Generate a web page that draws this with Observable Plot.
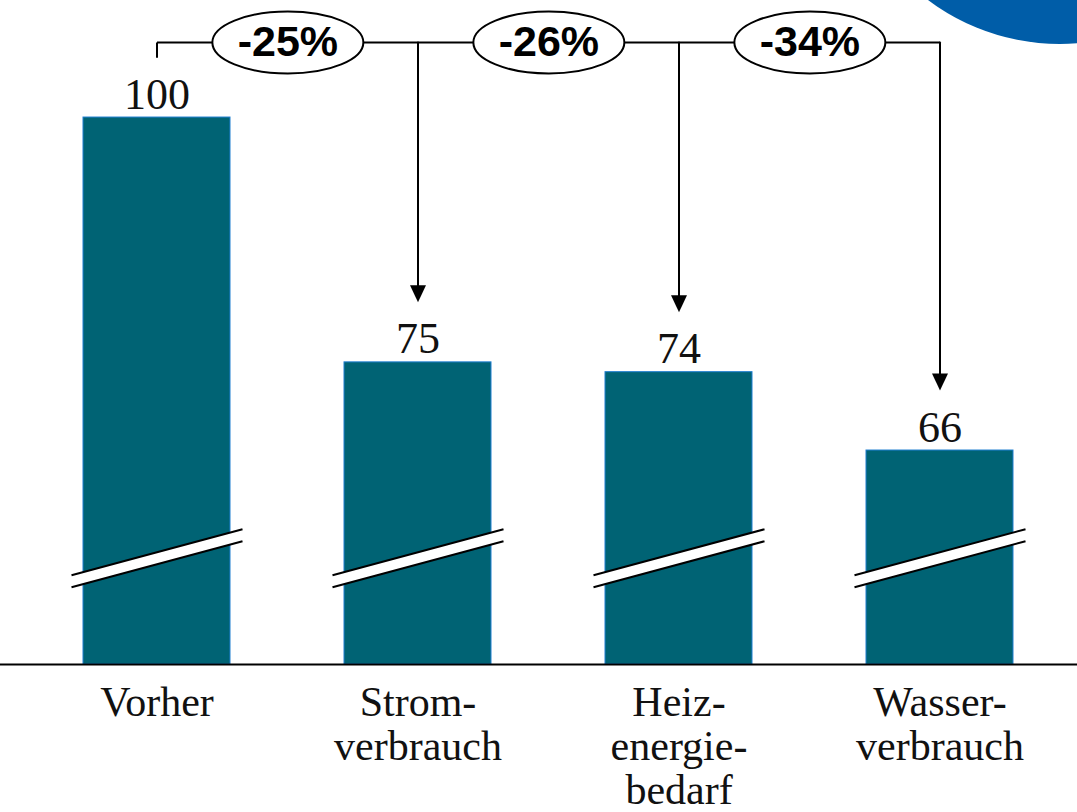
<!DOCTYPE html>
<html><head><meta charset="utf-8">
<script src="https://cdn.jsdelivr.net/npm/d3@7"></script>
<script src="https://cdn.jsdelivr.net/npm/@observablehq/plot@0.6"></script>
<style>
html,body{margin:0;padding:0;background:#fff;overflow:hidden}
#wrap{position:relative;width:1077px;height:812px;overflow:hidden}
#chart{position:absolute;left:0;top:0}
#blob{position:absolute;left:840px;top:-396px;width:440px;height:440px;border-radius:50%;background:#005da8;z-index:2}
</style></head><body><div id="wrap"><div id="chart"></div><div id="blob"></div></div>
<script>
// ---- data ----
const categories = ["Vorher", "Strom", "Heiz", "Wasser"];
const values = [100, 75, 74, 66];
const tickLabels = ["Vorher", "Strom-\nverbrauch", "Heiz-\nenergie-\nbedarf", "Wasser-\nverbrauch"];
const changeFrom = ["Vorher", "Strom", "Heiz"];
const changeLabels = ["-25%", "-26%", "-34%"];
const arrowTargets = ["Strom", "Heiz", "Wasser"];

// axis (broken) settings in data units
const yMin = 44.15, yMax = 111.95;
const breakLevel = 55;
const bracketLevel = 107.66;
const tickBottom = 106.1;

const W = 1077, H = 812, mL = 24.65, mR = 5.5, mT = 0, mB = 148;
const step = (W - mL - mR) / categories.length;

const bars = categories.map((c, i) => ({cat: c, value: values[i], label: tickLabels[i]}));
const changes = changeFrom.map((c, i) => ({cat: c, label: changeLabels[i]}));
const arrows = arrowTargets.map(c => ({cat: c, value: values[categories.indexOf(c)]}));

const serif = "'Liberation Serif', 'Times New Roman', serif";
const sans = "'Liberation Sans', Arial, sans-serif";

const ellipseSym = {draw(ctx) {
  const rx = 75.5, ry = 31, k = 0.5523;
  ctx.moveTo(rx, 0);
  ctx.bezierCurveTo(rx, ry * k, rx * k, ry, 0, ry);
  ctx.bezierCurveTo(-rx * k, ry, -rx, ry * k, -rx, 0);
  ctx.bezierCurveTo(-rx, -ry * k, -rx * k, -ry, 0, -ry);
  ctx.bezierCurveTo(rx * k, -ry, rx, -ry * k, rx, 0);
  ctx.closePath();
}};
const breakFill = {draw(ctx) {
  ctx.moveTo(-85.5, 17); ctx.lineTo(85.5, -29); ctx.lineTo(85.5, -17); ctx.lineTo(-85.5, 29); ctx.closePath();
}};
const breakLines = {draw(ctx) {
  ctx.moveTo(-85.5, 17); ctx.lineTo(85.5, -29);
  ctx.moveTo(-85.5, 29); ctx.lineTo(85.5, -17);
}};
const triDown = {draw(ctx) {
  ctx.moveTo(-8, -17); ctx.lineTo(8, -17); ctx.lineTo(0, 0); ctx.closePath();
}};

const chart = Plot.plot({
  width: W, height: H,
  marginLeft: mL, marginRight: mR, marginTop: mT, marginBottom: mB,
  style: {background: "transparent", fontFamily: serif},
  x: {domain: categories, paddingInner: 0.4383, paddingOuter: 0.21915, align: 0.5, axis: null},
  y: {domain: [yMin, yMax], axis: null},
  marks: [
    Plot.barY(bars, {x: "cat", y1: yMin, y2: "value", fill: "#006374", stroke: "#1f7fd0", strokeWidth: 1}),
    Plot.dot(bars, {x: "cat", y: breakLevel, symbol: breakFill, fill: "white", stroke: "none"}),
    Plot.dot(bars, {x: "cat", y: breakLevel, symbol: breakLines, fill: "none", stroke: "black", strokeWidth: 2}),
    Plot.ruleY([yMin], {stroke: "black", strokeWidth: 2, insetLeft: -30, insetRight: -10}),
    Plot.text(bars, {x: "cat", y: "value", text: d => String(d.value), lineAnchor: "bottom", dy: -9, fontSize: 44, fontFamily: serif, fill: "#111"}),
    Plot.text(bars, {x: "cat", y: yMin, text: "label", lineAnchor: "top", dy: 20, fontSize: 42, lineHeight: 44 / 42, fontFamily: serif, fill: "#111"}),
    // bracket
    Plot.link([{a: "Vorher"}], {x1: "a", x2: "a", y1: tickBottom, y2: bracketLevel, stroke: "black", strokeWidth: 2}),
    Plot.link([{a: "Vorher", b: "Wasser"}], {x1: "a", x2: "b", y1: bracketLevel, y2: bracketLevel, stroke: "black", strokeWidth: 2}),
    Plot.arrow(arrows, {x1: "cat", x2: "cat", y1: bracketLevel, y2: "value", insetEnd: 70, headLength: 0, stroke: "black", strokeWidth: 2}),
    Plot.dot(arrows, {x: "cat", y: "value", dy: -60, symbol: triDown, fill: "black", stroke: "none"}),
    Plot.dot(changes, {x: "cat", y: bracketLevel, dx: step / 2, symbol: ellipseSym, fill: "white", stroke: "black", strokeWidth: 2}),
    Plot.text(changes, {x: "cat", y: bracketLevel, dx: step / 2, text: "label", lineAnchor: "middle", fontSize: 43, fontWeight: "bold", fontFamily: sans, fill: "black"})
  ]
});
document.getElementById("chart").appendChild(chart);
</script>
</body></html>
